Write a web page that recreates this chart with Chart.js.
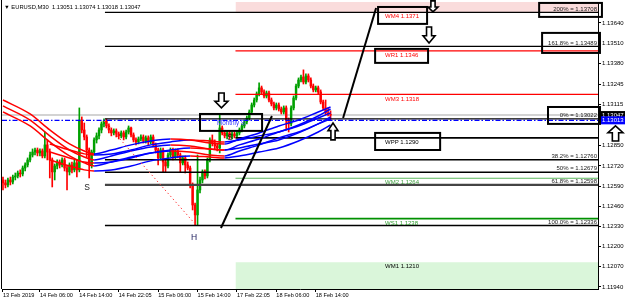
<!DOCTYPE html>
<html><head><meta charset="utf-8">
<script src="https://cdn.jsdelivr.net/npm/chart.js@4.4.0/dist/chart.umd.min.js"></script>
<style>html,body{margin:0;padding:0;background:#fff;overflow:hidden}canvas{display:block}</style>
</head><body>
<canvas id="c" width="625" height="303"></canvas>
<script>
// ---------- DATA ----------
const titleText = 'EURUSD,M30  1.13051 1.13074 1.13018 1.13047';
const xTickBars = [0, 15, 31, 47, 63, 79, 95, 111, 127];
const xTickLabels = ['13 Feb 2019','14 Feb 06:00','14 Feb 14:00','14 Feb 22:05','15 Feb 06:00','15 Feb 14:00','17 Feb 22:05','18 Feb 06:00','18 Feb 14:00'];
const yTickValues = [1.11940,1.12070,1.12200,1.12330,1.12460,1.12590,1.12720,1.12850,1.13115,1.13245,1.13380,1.13510,1.13640];

const openP = [
1.12629,1.12610,1.12597,1.12629,1.12616,1.12648,1.12655,1.12674,1.12668,1.12706,
1.12726,1.12758,1.12790,1.12809,1.12822,1.12803,1.12816,1.12784,1.12855,1.12809,
1.12758,1.12681,1.12719,1.12745,1.12726,1.12758,1.12706,1.12681,1.12726,1.12694,
1.12739,1.12694,1.13015,1.12951,1.12906,1.12822,1.12726,1.12809,1.12887,1.12913,
1.12951,1.12990,1.13009,1.12977,1.12951,1.12932,1.12945,1.12925,1.12913,1.12932,
1.12906,1.12938,1.12964,1.12919,1.12887,1.12874,1.12893,1.12906,1.12880,1.12900,
1.12874,1.12906,1.12855,1.12822,1.12771,1.12822,1.12745,1.12719,1.12790,1.12822,
1.12777,1.12816,1.12790,1.12739,1.12771,1.12726,1.12706,1.12597,1.12468,1.12404,
1.12565,1.12629,1.12681,1.12655,1.12758,1.12887,1.12867,1.12848,1.12835,1.12964,
1.12932,1.12913,1.12932,1.12906,1.12925,1.12913,1.12932,1.12951,1.12977,1.13003,
1.13028,1.13067,1.13112,1.13144,1.13183,1.13222,1.13196,1.13170,1.13189,1.13144,
1.13119,1.13093,1.13112,1.13086,1.13067,1.13093,1.13015,1.12990,1.13093,1.13157,
1.13234,1.13273,1.13292,1.13260,1.13299,1.13273,1.13234,1.13209,1.13222,1.13196,
1.13131,1.13093,1.13061,1.13051];
const highP = [
1.12648,1.12629,1.12642,1.12648,1.12661,1.12674,1.12687,1.12694,1.12719,1.12739,
1.12771,1.12809,1.12829,1.12835,1.12835,1.12829,1.12829,1.12938,1.12887,1.12829,
1.12771,1.12732,1.12758,1.12758,1.12771,1.12771,1.12719,1.12739,1.12745,1.12758,
1.12758,1.13093,1.13035,1.12996,1.12919,1.12835,1.12822,1.12900,1.12932,1.12964,
1.13003,1.13022,1.13022,1.12990,1.12964,1.12958,1.12958,1.12938,1.12945,1.12945,
1.12951,1.12977,1.12970,1.12932,1.12900,1.12906,1.12919,1.12919,1.12913,1.12913,
1.12919,1.12919,1.12867,1.12835,1.12835,1.12835,1.12758,1.12803,1.12835,1.12835,
1.12829,1.12829,1.12803,1.12784,1.12784,1.12745,1.12719,1.12610,1.12481,1.12790,
1.12648,1.12694,1.12694,1.12771,1.12900,1.12919,1.12887,1.12867,1.13048,1.12977,
1.12945,1.12945,1.12945,1.12938,1.12938,1.12945,1.12964,1.12990,1.13015,1.13041,
1.13080,1.13125,1.13157,1.13196,1.13254,1.13234,1.13209,1.13202,1.13202,1.13157,
1.13131,1.13125,1.13125,1.13099,1.13106,1.13106,1.13028,1.13106,1.13170,1.13247,
1.13286,1.13305,1.13338,1.13312,1.13312,1.13286,1.13247,1.13234,1.13234,1.13209,
1.13144,1.13144,1.13093,1.13074];
const lowP = [
1.12565,1.12578,1.12584,1.12597,1.12603,1.12629,1.12642,1.12648,1.12655,1.12687,
1.12713,1.12745,1.12777,1.12790,1.12784,1.12784,1.12771,1.12771,1.12758,1.12642,
1.12584,1.12629,1.12700,1.12706,1.12713,1.12687,1.12565,1.12661,1.12674,1.12681,
1.12648,1.12681,1.12932,1.12887,1.12777,1.12642,1.12706,1.12790,1.12867,1.12893,
1.12932,1.12970,1.12964,1.12932,1.12913,1.12919,1.12906,1.12893,1.12900,1.12887,
1.12893,1.12925,1.12906,1.12874,1.12855,1.12861,1.12880,1.12867,1.12867,1.12855,
1.12861,1.12842,1.12803,1.12726,1.12758,1.12681,1.12681,1.12706,1.12777,1.12758,
1.12764,1.12771,1.12681,1.12726,1.12674,1.12694,1.12578,1.12436,1.12339,1.12339,
1.12545,1.12610,1.12636,1.12642,1.12745,1.12848,1.12829,1.12816,1.12803,1.12919,
1.12900,1.12893,1.12893,1.12893,1.12900,1.12900,1.12919,1.12938,1.12964,1.12990,
1.13015,1.13054,1.13099,1.13131,1.13170,1.13183,1.13157,1.13157,1.13131,1.13106,
1.13080,1.13080,1.13073,1.13054,1.13054,1.12951,1.12938,1.12977,1.13080,1.13144,
1.13222,1.13260,1.13247,1.13247,1.13260,1.13222,1.13196,1.13196,1.13183,1.13119,
1.13080,1.13048,1.13041,1.13018];
const closeP = [
1.12610,1.12597,1.12629,1.12616,1.12648,1.12655,1.12674,1.12668,1.12706,1.12726,
1.12758,1.12790,1.12809,1.12822,1.12803,1.12816,1.12784,1.12855,1.12809,1.12758,
1.12681,1.12719,1.12745,1.12726,1.12758,1.12706,1.12681,1.12726,1.12694,1.12739,
1.12694,1.13015,1.12951,1.12906,1.12822,1.12726,1.12809,1.12887,1.12913,1.12951,
1.12990,1.13009,1.12977,1.12951,1.12932,1.12945,1.12925,1.12913,1.12932,1.12906,
1.12938,1.12964,1.12919,1.12887,1.12874,1.12893,1.12906,1.12880,1.12900,1.12874,
1.12906,1.12855,1.12822,1.12771,1.12822,1.12745,1.12719,1.12790,1.12822,1.12777,
1.12816,1.12790,1.12739,1.12771,1.12726,1.12706,1.12597,1.12468,1.12404,1.12565,
1.12629,1.12681,1.12655,1.12758,1.12887,1.12867,1.12848,1.12835,1.12964,1.12932,
1.12913,1.12932,1.12906,1.12925,1.12913,1.12932,1.12951,1.12977,1.13003,1.13028,
1.13067,1.13112,1.13144,1.13183,1.13222,1.13196,1.13170,1.13189,1.13144,1.13119,
1.13093,1.13112,1.13086,1.13067,1.13093,1.13015,1.12990,1.13093,1.13157,1.13234,
1.13273,1.13292,1.13260,1.13299,1.13273,1.13234,1.13209,1.13222,1.13196,1.13131,
1.13093,1.13061,1.13054,1.13047];

// moving-average ribbons (sampled at bars)
const ribABars = [0,11,19,27,33,37,44,52,60,68,76,84,90,96,104,112,120,128,133];
const ribAUp  = [1.13144,1.13054,1.12951,1.12861,1.12816,1.12797,1.12822,1.12855,1.12880,1.12893,1.12887,1.12867,1.12861,1.12893,1.12932,1.12977,1.13015,1.13067,1.13099];
const ribAMid = [1.13106,1.13015,1.12913,1.12822,1.12777,1.12758,1.12784,1.12816,1.12842,1.12855,1.12848,1.12829,1.12822,1.12855,1.12893,1.12938,1.12977,1.13028,1.13061];
const ribALow = [1.13067,1.12977,1.12874,1.12784,1.12739,1.12719,1.12745,1.12777,1.12803,1.12816,1.12809,1.12790,1.12784,1.12816,1.12855,1.12900,1.12938,1.12990,1.13022];
const ribBBars = [19,27,33,37,44,52,60,68,76,84,90,96,104,112,120,128,133];
const ribBUp  = [1.12861,1.12822,1.12797,1.12790,1.12797,1.12822,1.12855,1.12874,1.12887,1.12880,1.12874,1.12887,1.12913,1.12938,1.12983,1.13041,1.13086];
const ribBMid = [1.12809,1.12771,1.12745,1.12739,1.12745,1.12771,1.12803,1.12822,1.12835,1.12829,1.12822,1.12835,1.12861,1.12887,1.12932,1.12990,1.13035];
const ribBLow = [1.12758,1.12719,1.12694,1.12687,1.12694,1.12719,1.12752,1.12771,1.12784,1.12777,1.12771,1.12784,1.12809,1.12835,1.12880,1.12938,1.12983];

// fibonacci levels
const fibLabels = ['200%','161.8%','0%','38.2%','50%','61.8%','100.0%'];
const fibValues = [1.13708,1.13489,1.13022,1.12760,1.12679,1.12598,1.12336];
const fibStartBar = 41.4;
// weekly pivots
const pivotNames  = ['WM4','WR1','WM3','WPP','WM2','WS1','WM1'];
const pivotValues = [1.1371,1.1346,1.1318,1.1290,1.1264,1.1238,1.1210];
const pivotStartBar = 94.4;
// price lines
const bidPrice = 1.13047;
const markPrice = 1.13013;
// trend lines [bar, price]
const trendA = [[88.5,1.12320],[109.2,1.13041]];
const trendB = [[138.1,1.13028],[151.5,1.13736]];
const dottedLine = [[41,1.13009],[78.4,1.12339]];

// ---------- STYLE / LAYOUT ----------
const X_MIN = -0.4, X_MAX = 241.6, Y_MIN = 1.11927, Y_MAX = 1.13775;
const FONT = '"Liberation Sans", Arial, "DejaVu Sans", sans-serif';
const GREEN = '#00a000', RED = '#ff0000', BLUE = '#0000ff';
const pivotLineStyle = {WR1:[RED,1.2], WM3:[RED,1.2], WPP:['#000',1.6], WM2:['#5cb85c',1.2], WS1:['#009000',1.7]};
const pivotTextColors = [RED, RED, RED, '#000', '#3c9c3c', '#2a9a2a', '#000'];
const fibWidths = [1.3,1.3,1.3,1.5,1.5,2.2,1.5];
const fibColors = ['#000','#000','#000','#000','#000','#444','#000'];

const boxes = [
  {x0:152.3, x1:172.2, p0:1.13743, p1:1.13634},
  {x0:151.1, x1:172.6, p0:1.13473, p1:1.13383},
  {x0:151.1, x1:177.5, p0:1.12932, p1:1.12822},
  {x0:80.0,  x1:105.2, p0:1.13054, p1:1.12945},
  {x0:217.7, x1:243.2, p0:1.13769, p1:1.13679},
  {x0:218.9, x1:242.4, p0:1.13576, p1:1.13447},
  {x0:221.3, x1:242.4, p0:1.13099, p1:1.12990}
];
const arrows = [
  {bar:88.7,  p0:1.13189, p1:1.13093, w:13, up:false},
  {bar:173.0, p0:1.13614, p1:1.13511, w:12, up:false},
  {bar:174.6, p0:1.13782, p1:1.13711, w:10, up:false},
  {bar:134.0, p0:1.12996, p1:1.12887, w:10, up:true},
  {bar:248.7, p0:1.12977, p1:1.12880, w:15, up:true}
];
const letters = [
  {t:'S', bar:34.1, p:1.12578, c:'#222'},
  {t:'S', bar:92.2, p:1.12900, c:'#222'},
  {t:'H', bar:77.6, p:1.12256, c:'#1a1a5a'}
];
const pivotLabelBar = 155.1;

// ---------- DATASETS ----------
const candleColors = closeP.map((c,i) => c >= openP[i] ? GREEN : RED);
const hline = (x0, v, color, w, order, dash) => ({
  type:'line', data:[{x:x0,y:v},{x:X_MAX,y:v}], borderColor:color, borderWidth:w,
  pointRadius:0, fill:false, order:order, borderDash: dash || []
});
const segColor = ctx => ctx.p1.parsed.y >= ctx.p0.parsed.y ? BLUE : RED;
const ribbon = (bars, vals) => ({
  type:'line', data: bars.map((b,k)=>({x:b,y:vals[k]})), borderWidth:1.5, borderColor:RED,
  segment:{borderColor:segColor}, pointRadius:0, tension:0.4, cubicInterpolationMode:'monotone', fill:false, order:7
});
const seg = (pts, color, w, order, dash) => ({
  type:'line', data: pts.map(p=>({x:p[0],y:p[1]})), borderColor:color, borderWidth:w,
  pointRadius:0, fill:false, order:order, borderDash: dash || []
});

const datasets = [
  {type:'line', data:[{x:pivotStartBar,y:pivotValues[0]},{x:X_MAX,y:pivotValues[0]}], borderWidth:0, pointRadius:0, fill:'end', backgroundColor:'#fadcdc', order:20},
  {type:'line', data:[{x:pivotStartBar,y:pivotValues[6]},{x:X_MAX,y:pivotValues[6]}], borderWidth:0, pointRadius:0, fill:'start', backgroundColor:'#daf6da', order:20},
  hline(X_MIN, bidPrice, '#c4c4c4', 1.4, 15),
  {type:'bar', data: lowP.map((l,i)=>({x:i,y:[l,highP[i]]})), backgroundColor:candleColors, barThickness:1, grouped:false, borderWidth:0, order:12},
  {type:'bar', data: openP.map((o,i)=>({x:i,y:[o,closeP[i]]})), backgroundColor:candleColors, barThickness:1.8, grouped:false, borderWidth:0, order:11}
];
fibValues.forEach((v,i)=>datasets.push(hline(fibStartBar, v, fibColors[i], fibWidths[i], 9)));
pivotNames.forEach((n,i)=>{ if (pivotLineStyle[n]) datasets.push(hline(pivotStartBar, pivotValues[i], pivotLineStyle[n][0], pivotLineStyle[n][1], 9)); });
datasets.push(hline(X_MIN, markPrice, BLUE, 1.2, 8, [5,2,1.5,2]));
[[ribABars,ribAUp],[ribABars,ribAMid],[ribABars,ribALow],[ribBBars,ribBUp],[ribBBars,ribBMid],[ribBBars,ribBLow]].forEach(r=>datasets.push(ribbon(r[0], r[1])));
datasets.push(seg(dottedLine, '#ff4040', 1, 6, [1.5,2.5]));
datasets.push(seg(trendA, '#000', 2, 5));
datasets.push(seg(trendB, '#000', 2, 5));

// ---------- OVERLAY ----------
function drawArrow(ctx, cx, y0, y1, w, up) {
  const h = y1 - y0, hh = h * 0.45, sw = w * 0.42;
  ctx.beginPath();
  if (!up) {
    ctx.moveTo(cx - sw/2, y0); ctx.lineTo(cx + sw/2, y0); ctx.lineTo(cx + sw/2, y1 - hh);
    ctx.lineTo(cx + w/2, y1 - hh); ctx.lineTo(cx, y1); ctx.lineTo(cx - w/2, y1 - hh);
    ctx.lineTo(cx - sw/2, y1 - hh);
  } else {
    ctx.moveTo(cx - sw/2, y1); ctx.lineTo(cx + sw/2, y1); ctx.lineTo(cx + sw/2, y0 + hh);
    ctx.lineTo(cx + w/2, y0 + hh); ctx.lineTo(cx, y0); ctx.lineTo(cx - w/2, y0 + hh);
    ctx.lineTo(cx - sw/2, y0 + hh);
  }
  ctx.closePath();
  ctx.fillStyle = '#fff'; ctx.fill();
  ctx.lineWidth = 1.6; ctx.strokeStyle = '#000'; ctx.stroke();
}
const overlay = {
  id:'overlay',
  afterDraw(chart) {
    const ctx = chart.ctx, X = chart.scales.x, Y = chart.scales.y, A = chart.chartArea;
    const px = v => X.getPixelForValue(v), py = v => Y.getPixelForValue(v);
    const font = s => s + 'px ' + FONT;
    ctx.save();
    // left frame
    ctx.strokeStyle = '#000'; ctx.lineWidth = 1;
    ctx.beginPath(); ctx.moveTo(A.left - 0.5, 0); ctx.lineTo(A.left - 0.5, A.bottom); ctx.stroke();
    // title
    ctx.fillStyle = '#000'; ctx.textBaseline = 'middle'; ctx.textAlign = 'left';
    ctx.font = font(5.8);
    ctx.fillText('\u25BC ' + titleText, 4, 7);
    // fib labels
    ctx.font = font(6); ctx.textAlign = 'right'; ctx.fillStyle = '#222';
    fibValues.forEach((v,i)=>ctx.fillText(fibLabels[i] + ' = ' + v.toFixed(5), A.right - 1, py(v) - 3.5));
    // pivot labels
    ctx.textAlign = 'left';
    pivotValues.forEach((v,i)=>{ ctx.fillStyle = pivotTextColors[i]; ctx.fillText(pivotNames[i] + ' ' + v.toFixed(4), px(pivotLabelBar), py(v) + 4.5); });
    // price tags
    [[bidPrice,'#000'],[markPrice,BLUE]].forEach(([v,c])=>{
      const y = py(v);
      ctx.fillStyle = c; ctx.fillRect(A.right + 1, y - 4, 27, 8);
      ctx.fillStyle = '#fff'; ctx.font = font(6); ctx.textAlign = 'left';
      ctx.fillText(v.toFixed(5), A.right + 4, y);
    });
    // boxes
    ctx.lineWidth = 2; ctx.strokeStyle = '#000';
    boxes.forEach(b=>{ const x0 = px(b.x0), x1 = px(b.x1), y0 = py(b.p0), y1 = py(b.p1); ctx.strokeRect(x0, y0, x1 - x0, y1 - y0); });
    // Monthly S text
    const mb = boxes[3];
    ctx.fillStyle = '#3a3aff'; ctx.font = font(6.3); ctx.textAlign = 'center';
    ctx.fillText('Monthly S', (px(mb.x0) + px(mb.x1)) / 2, (py(mb.p0) + py(mb.p1)) / 2 + 1);
    // arrows
    arrows.forEach(a=>drawArrow(ctx, px(a.bar), py(a.p0), py(a.p1), a.w, a.up));
    // letters
    ctx.font = font(8.5); ctx.textAlign = 'center';
    letters.forEach(l=>{ ctx.fillStyle = l.c; ctx.fillText(l.t, px(l.bar), py(l.p)); });
    ctx.restore();
  }
};

new Chart(document.getElementById('c'), {
  type:'bar',
  data:{datasets},
  options:{
    responsive:false, animation:false, devicePixelRatio:1, events:[],
    layout:{padding:{left:2, top:2, right:0, bottom:0}},
    plugins:{legend:{display:false}, tooltip:{enabled:false}},
    scales:{
      x:{
        type:'linear', min:X_MIN, max:X_MAX, offset:false,
        afterBuildTicks: s => { s.ticks = xTickBars.map(v=>({value:v})); },
        afterFit: s => { s.height = 14; s.paddingLeft = 0; s.paddingRight = 0; },
        ticks:{ callback: v => { const k = xTickBars.indexOf(v); return k >= 0 ? xTickLabels[k] : ''; },
                align:'start', maxRotation:0, minRotation:0, autoSkip:false, padding:0,
                font:{family:FONT, size:5.6}, color:'#000' },
        grid:{ drawOnChartArea:false, drawTicks:true, tickLength:3, color:'#000', offset:false },
        border:{ display:true, color:'#000', width:1 }
      },
      y:{
        type:'linear', position:'right', min:Y_MIN, max:Y_MAX,
        afterBuildTicks: s => { s.ticks = yTickValues.map(v=>({value:v})); },
        afterFit: s => { s.width = 27; s.paddingTop = 0; s.paddingBottom = 0; },
        ticks:{ callback: v => Number(v).toFixed(5), autoSkip:false, padding:1,
                font:{family:FONT, size:6}, color:'#000' },
        grid:{ drawOnChartArea:false, drawTicks:true, tickLength:3, color:'#000' },
        border:{ display:true, color:'#000', width:1 }
      }
    }
  },
  plugins:[overlay]
});
</script>
</body></html>
